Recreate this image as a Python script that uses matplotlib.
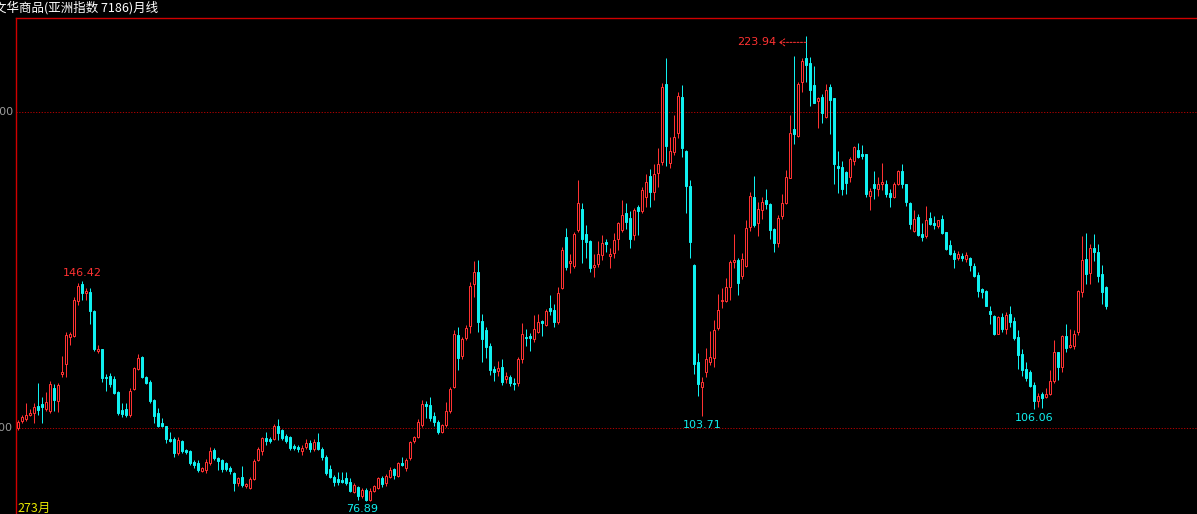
import matplotlib
matplotlib.use("Agg")
import matplotlib.pyplot as plt
from matplotlib.transforms import offset_copy

# monthly candles (273 bars)
opens = [100.0, 102.2, 102.8, 104.1, 104.7, 107.0, 107.6, 106.0, 105.4, 112.7,
         108.5, 117.1, 120.3, 128.8, 129.1, 140.2, 145.6, 142.7, 143.0, 137.0,
         124.4, 125.0, 116.1, 116.5, 115.5, 111.4, 105.7, 106.0, 104.1, 112.3,
         118.7, 122.5, 116.1, 114.6, 108.9, 104.7, 101.6, 100.6, 96.5, 96.5,
         92.1, 95.9, 93.0, 92.7, 89.2, 88.9, 86.4, 86.7, 88.9, 93.0,
         90.5, 89.9, 88.9, 87.3, 85.8, 82.6, 84.5, 81.6, 81.0, 83.9,
         89.9, 92.7, 96.8, 96.5, 96.5, 100.6, 99.4, 97.5, 97.2, 94.3,
         94.0, 92.7, 94.0, 95.3, 93.4, 95.6, 93.4, 90.8, 87.0, 84.5,
         83.9, 83.5, 84.2, 82.9, 79.7, 81.3, 78.5, 80.4, 77.2, 80.1,
         81.0, 84.2, 82.6, 84.5, 87.0, 84.8, 88.9, 87.3, 90.5, 95.9,
         97.2, 100.9, 107.6, 107.3, 103.8, 101.9, 98.7, 100.9, 105.4, 113.0,
         129.4, 122.8, 128.5, 132.3, 145.6, 149.4, 133.9, 131.0, 126.0, 118.7,
         118.0, 119.3, 115.5, 116.1, 114.2, 114.2, 121.8, 128.8, 129.1, 128.2,
         130.4, 133.9, 132.6, 138.0, 137.3, 133.5, 144.3, 160.5, 152.2, 151.3,
         162.7, 169.3, 161.4, 159.2, 151.0, 151.9, 154.8, 158.9, 154.4, 155.4,
         159.8, 162.7, 168.0, 166.5, 161.1, 169.9, 168.7, 173.1, 179.8, 174.7,
         180.7, 184.2, 208.9, 183.9, 187.4, 193.4, 204.8, 187.7, 176.6, 151.6,
         120.9, 113.0, 117.7, 120.9, 122.2, 131.7, 140.2, 140.2, 144.6, 152.5,
         153.2, 148.1, 151.3, 163.6, 173.1, 164.9, 169.0, 172.2, 170.9, 163.0,
         158.6, 167.1, 171.2, 179.1, 194.6, 192.4, 209.5, 217.1, 215.5, 208.6,
         203.5, 204.8, 198.4, 207.9, 204.4, 182.9, 182.6, 181.0, 179.4, 184.5,
         188.0, 186.7, 186.7, 173.4, 177.2, 175.6, 177.2, 177.2, 174.4, 173.1,
         177.2, 181.3, 177.2, 171.2, 162.3, 166.8, 161.4, 160.8, 166.5, 164.9,
         163.9, 166.1, 162.0, 157.9, 155.4, 153.8, 154.4, 153.5, 153.8, 151.3,
         148.4, 144.0, 143.4, 137.0, 135.4, 129.8, 135.1, 131.3, 136.1, 133.9,
         128.8, 123.4, 118.7, 117.7, 113.6, 108.5, 110.8, 109.8, 110.8, 114.9,
         124.1, 119.3, 129.1, 125.6, 126.0, 130.4, 143.0, 153.5, 149.1, 157.0,
         155.7, 148.7, 144.6]
highs = [102.5, 104.1, 107.9, 106.0, 107.9, 114.2, 109.8, 111.4, 114.9, 113.9,
         114.2, 122.8, 130.4, 130.4, 141.5, 145.9, 146.42, 144.3, 144.3, 137.3,
         126.3, 125.0, 117.1, 117.4, 116.5, 111.7, 107.9, 107.9, 112.7, 119.3,
         123.4, 122.8, 116.5, 115.2, 109.2, 106.3, 103.2, 100.6, 98.7, 97.2,
         97.2, 96.2, 93.4, 93.0, 89.9, 89.9, 87.7, 90.2, 94.0, 93.7,
         90.8, 90.2, 89.2, 88.0, 86.1, 84.5, 88.0, 82.6, 84.5, 90.2,
         94.0, 97.2, 98.7, 97.2, 101.3, 102.8, 99.7, 98.1, 97.5, 94.9,
         94.6, 94.6, 96.5, 96.2, 96.5, 98.4, 94.0, 91.5, 88.3, 85.1,
         86.1, 86.1, 86.1, 84.2, 82.6, 81.6, 81.0, 81.0, 81.0, 82.0,
         84.5, 84.8, 85.4, 87.7, 87.3, 89.2, 90.8, 90.5, 95.9, 97.5,
         102.8, 108.9, 108.5, 109.8, 105.1, 102.5, 101.3, 108.2, 113.0, 131.0,
         132.0, 128.8, 132.6, 146.2, 152.9, 153.2, 136.1, 132.0, 126.9, 119.6,
         121.2, 121.8, 117.7, 116.8, 115.8, 122.5, 133.2, 131.3, 130.1, 135.8,
         136.1, 134.2, 137.7, 142.1, 139.2, 144.6, 157.3, 163.3, 155.1, 162.0,
         178.5, 171.2, 164.2, 159.5, 155.1, 159.2, 161.1, 159.8, 157.0, 161.7,
         165.2, 172.2, 171.2, 168.7, 169.6, 170.6, 176.3, 180.4, 182.0, 183.6,
         188.6, 209.2, 217.1, 192.1, 199.1, 206.3, 208.6, 188.0, 178.5, 151.9,
         123.7, 116.1, 125.3, 130.7, 134.2, 142.4, 144.3, 147.5, 153.2, 161.4,
         153.8, 155.4, 165.8, 174.7, 179.8, 171.5, 173.1, 175.6, 171.2, 163.3,
         167.4, 174.1, 181.7, 199.1, 217.7, 209.5, 217.1, 223.94, 217.4, 214.6,
         204.8, 205.7, 208.9, 208.9, 204.4, 187.7, 184.5, 181.3, 185.8, 189.3,
         190.2, 189.6, 186.7, 176.0, 181.3, 179.4, 183.9, 178.5, 175.6, 177.9,
         181.7, 183.6, 177.2, 171.5, 169.0, 167.7, 164.9, 170.3, 168.4, 167.1,
         165.8, 167.4, 162.0, 159.5, 156.3, 156.0, 155.4, 155.7, 154.1, 152.2,
         149.4, 144.3, 143.7, 138.6, 135.8, 135.4, 136.4, 136.7, 138.6, 135.1,
         131.0, 125.0, 120.9, 118.4, 114.6, 111.1, 111.4, 112.7, 118.4, 127.9,
         124.1, 129.4, 132.9, 131.3, 131.0, 143.7, 160.8, 161.7, 158.2, 161.4,
         158.2, 151.6, 144.9]
lows = [99.4, 101.6, 102.2, 103.8, 101.6, 104.1, 101.6, 105.4, 104.7, 105.4,
        105.1, 116.1, 116.1, 126.3, 128.8, 138.9, 140.5, 140.5, 132.9, 124.4,
        123.7, 114.6, 111.7, 113.0, 110.8, 104.1, 103.5, 103.5, 103.5, 112.0,
        118.4, 115.8, 113.9, 107.9, 101.6, 100.3, 100.3, 95.3, 95.6, 90.8,
        91.5, 92.1, 91.8, 88.3, 87.3, 86.1, 86.1, 85.8, 88.3, 89.9,
        86.7, 86.1, 86.4, 85.4, 80.1, 81.6, 81.3, 81.0, 80.7, 83.5,
        89.6, 91.5, 94.6, 95.3, 96.2, 96.2, 96.2, 95.3, 93.0, 93.0,
        92.4, 91.5, 93.4, 92.4, 92.7, 93.0, 89.9, 85.1, 84.2, 81.6,
        82.0, 82.6, 82.0, 79.7, 79.4, 77.2, 77.8, 76.89, 77.0, 79.7,
        80.7, 81.3, 81.6, 84.2, 83.9, 84.5, 88.0, 86.4, 89.9, 95.3,
        96.8, 100.3, 103.2, 102.2, 100.6, 98.1, 98.4, 100.3, 104.7, 112.7,
        118.4, 121.8, 127.9, 130.1, 141.5, 130.4, 120.9, 122.2, 116.8, 114.9,
        116.5, 113.6, 114.2, 113.3, 112.0, 113.3, 120.6, 126.0, 124.4, 127.2,
        130.1, 129.1, 132.3, 135.8, 132.0, 132.9, 144.0, 150.0, 149.1, 150.6,
        162.0, 152.2, 153.8, 149.4, 147.8, 151.0, 153.2, 155.7, 150.6, 153.8,
        156.3, 162.0, 163.0, 157.0, 159.5, 161.1, 168.0, 169.9, 169.9, 172.2,
        176.3, 183.2, 182.9, 182.3, 186.4, 191.8, 185.8, 168.0, 153.8, 117.1,
        110.1, 103.71, 116.1, 119.9, 119.3, 131.0, 138.0, 139.9, 140.5, 150.6,
        142.1, 147.2, 151.0, 162.3, 163.6, 160.8, 166.1, 169.3, 159.8, 155.7,
        157.3, 166.1, 170.9, 179.1, 189.9, 192.1, 206.3, 209.5, 201.9, 202.9,
        195.0, 196.5, 198.1, 193.1, 177.2, 174.4, 173.7, 174.1, 177.9, 183.2,
        185.5, 185.1, 173.1, 169.0, 172.5, 173.4, 175.3, 173.1, 169.9, 172.8,
        176.9, 176.0, 170.3, 163.0, 162.0, 160.8, 159.2, 160.1, 164.2, 163.0,
        163.3, 161.4, 156.3, 154.8, 150.6, 153.2, 152.9, 152.5, 149.7, 147.8,
        141.5, 141.1, 138.6, 132.9, 129.4, 129.8, 130.4, 129.8, 132.0, 127.9,
        118.7, 116.5, 114.9, 113.0, 106.06, 106.6, 106.3, 109.5, 110.4, 114.2,
        115.2, 117.7, 124.1, 125.3, 125.0, 129.4, 141.5, 145.6, 145.6, 152.9,
        146.2, 139.2, 137.7]
closes = [101.9, 103.5, 104.1, 104.7, 106.6, 105.7, 106.6, 108.2, 113.9, 108.9,
          113.6, 117.7, 129.4, 129.8, 140.5, 144.9, 142.7, 143.4, 137.0, 125.0,
          125.0, 115.8, 115.8, 113.9, 111.1, 104.7, 104.4, 104.1, 111.7, 119.0,
          122.2, 116.1, 114.2, 108.5, 103.8, 100.6, 100.6, 96.5, 95.9, 92.1,
          96.2, 92.7, 92.4, 88.9, 88.3, 86.7, 87.3, 89.2, 92.7, 90.5,
          89.6, 87.0, 87.0, 86.4, 82.6, 84.2, 82.0, 82.3, 83.9, 89.6,
          93.4, 96.8, 95.9, 95.9, 100.6, 98.4, 96.8, 95.9, 93.7, 93.7,
          93.4, 93.7, 95.3, 93.4, 95.6, 93.4, 90.8, 85.8, 84.5, 82.9,
          82.9, 82.9, 82.6, 80.1, 82.0, 78.5, 80.4, 77.2, 80.1, 81.6,
          84.2, 82.3, 84.8, 86.7, 85.1, 88.9, 88.3, 89.9, 95.6, 97.2,
          101.9, 107.6, 107.0, 103.2, 101.9, 98.7, 100.9, 105.4, 112.3, 129.8,
          122.2, 128.2, 131.7, 144.9, 149.4, 133.5, 128.2, 125.6, 118.4, 117.7,
          119.0, 114.6, 116.5, 114.2, 113.9, 121.8, 129.8, 128.5, 128.5, 131.3,
          133.5, 133.2, 137.0, 137.0, 133.5, 142.7, 156.3, 151.0, 152.9, 161.4,
          171.2, 159.8, 158.9, 150.6, 151.6, 155.1, 158.6, 158.2, 155.1, 159.5,
          164.9, 167.4, 165.2, 159.8, 169.0, 168.7, 175.3, 177.9, 174.7, 180.4,
          183.6, 207.9, 189.3, 187.7, 192.1, 205.1, 188.6, 176.6, 158.9, 120.3,
          113.9, 114.6, 121.8, 122.5, 131.0, 137.3, 140.5, 144.6, 152.5, 153.2,
          145.9, 153.5, 163.3, 173.4, 164.2, 169.3, 171.5, 170.9, 162.7, 158.6,
          166.5, 171.2, 179.4, 193.4, 193.1, 208.9, 216.2, 214.9, 207.0, 202.9,
          204.4, 199.7, 207.0, 203.8, 183.6, 182.3, 175.6, 177.5, 185.1, 188.9,
          185.8, 186.1, 174.1, 175.0, 176.0, 177.2, 177.9, 174.1, 173.1, 177.2,
          181.3, 177.2, 171.5, 164.6, 166.1, 161.1, 160.5, 165.8, 164.6, 164.2,
          165.8, 161.7, 156.7, 155.1, 153.5, 155.1, 153.8, 154.8, 151.6, 148.1,
          143.4, 143.0, 138.6, 136.1, 129.8, 135.1, 131.3, 135.8, 133.5, 128.5,
          123.1, 118.4, 115.8, 113.3, 108.5, 110.1, 109.5, 110.8, 114.9, 124.1,
          119.3, 129.1, 125.3, 126.3, 129.8, 143.4, 153.2, 148.7, 157.0, 155.7,
          148.1, 143.0, 138.6]

title = "文华商品(亚洲指数 7186)月线"
grid_levels = [100, 200]
bar_count_label = "273月"

UP = "#FF3232"
DOWN = "#10F0F0"
BG = "#000000"
FRAME = "#D00000"
PX = 0.72  # one pixel in points at dpi 100

W, H = 1197, 514
fig = plt.figure(figsize=(W / 100, H / 100), dpi=100, facecolor=BG)
ax = fig.add_axes([16 / W, 0, 1 - 16 / W, (H - 18) / H])
ax.set_facecolor(BG)

n = len(closes)
xs = list(range(n))
up = [c >= o for o, c in zip(opens, closes)]
cols = [UP if u else DOWN for u in up]

# wicks
ax.vlines(xs, lows, highs, colors=cols, linewidth=PX, zorder=2)

# bodies: hollow red for up months, filled cyan for down months
bottoms = [min(o, c) for o, c in zip(opens, closes)]
heights = [max(abs(c - o), 0.15) for o, c in zip(opens, closes)]
faces = [BG if u else DOWN for u in up]
ax.bar(xs, heights, bottom=bottoms, width=0.5, color=faces, edgecolor=cols,
       linewidth=PX, zorder=3)

# dotted level lines
for lv in grid_levels:
    ax.axhline(lv, color="#B00000", linewidth=PX, linestyle=(0, (1.2, 1.6)), zorder=1)
    ax.text(-0.0025, lv, str(lv), transform=ax.get_yaxis_transform(), ha="right",
            va="center", color="#9A9A9A", fontsize=8, clip_on=False)

# axis scale matching the reference: 100 units = 316 px
ax.set_xlim(-0.5, 294.75)
ax.set_ylim(72.78, 229.75)
ax.set_xticks([])
ax.set_yticks([])
for side in ("right", "bottom"):
    ax.spines[side].set_visible(False)
for side in ("left", "top"):
    ax.spines[side].set_color(FRAME)
    ax.spines[side].set_linewidth(1.0)

# extreme-value labels
i_hi = highs.index(max(highs))
i_lo = lows.index(min(lows))
i_hi1 = highs.index(max(highs[:60]))
i_lo2 = lows.index(min(lows[150:190]))
i_lo3 = lows.index(min(lows[230:]))
num_kw = dict(fontsize=8, family="DejaVu Sans", textcoords="offset points")

ax.annotate(f"{highs[i_hi1]:.2f}", (i_hi1, highs[i_hi1]), xytext=(0, 3 * PX),
            ha="center", va="bottom", color=UP, **num_kw)
ax.annotate(f"{lows[i_lo]:.2f}", (i_lo, lows[i_lo]), xytext=(-4 * PX, -3 * PX),
            ha="center", va="top", color=DOWN, **num_kw)
ax.annotate(f"{lows[i_lo2]:.2f}", (i_lo2, lows[i_lo2]), xytext=(0, -4 * PX),
            ha="center", va="top", color=DOWN, **num_kw)
ax.annotate(f"{lows[i_lo3]:.2f}", (i_lo3, lows[i_lo3]), xytext=(0, -4 * PX),
            ha="center", va="top", color=DOWN, **num_kw)
ax.annotate(f"{highs[i_hi]:.2f}", (i_hi, highs[i_hi]), xytext=(-30 * PX, -6 * PX),
            ha="right", va="center", color=UP, **num_kw)
tip = offset_copy(ax.transData, fig=fig, x=-27 * PX, y=-6 * PX, units="points")
tail = offset_copy(ax.transData, fig=fig, x=0, y=-6 * PX, units="points")
ax.annotate("", xy=(i_hi, highs[i_hi]), xycoords=tip,
            xytext=(i_hi, highs[i_hi]), textcoords=tail,
            arrowprops=dict(arrowstyle="->,head_length=0.35,head_width=0.25",
                            color=UP, lw=PX, linestyle=(0, (2, 1.5)),
                            shrinkA=0, shrinkB=0))

# header and bar count
fig.text(-6 / W, 1 - 1 / H, title, ha="left", va="top", color="white",
         fontsize=9, family=["Noto Sans CJK SC", "DejaVu Sans"])
fig.text(17 / W, 1 - 502 / H, bar_count_label, ha="left", va="top", color="#E8E800",
         fontsize=9, family=["Noto Sans CJK SC", "DejaVu Sans"])

fig.savefig("out.png", dpi=100, facecolor=BG)
